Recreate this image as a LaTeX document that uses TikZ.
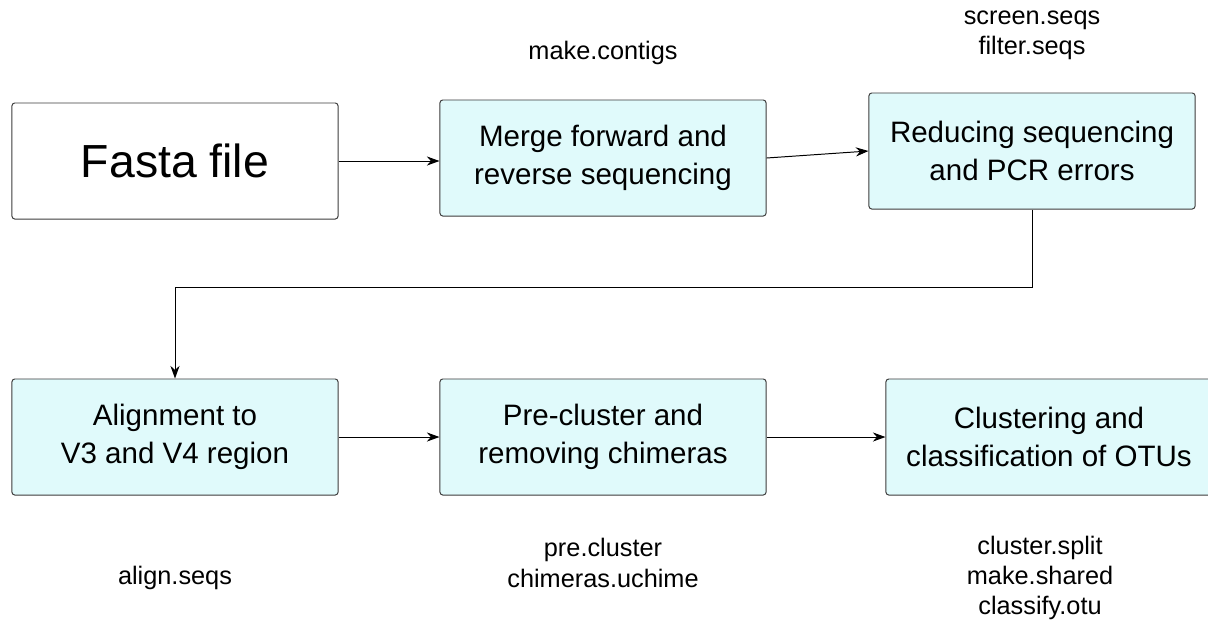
\documentclass[tikz,border=0pt]{standalone}
\usepackage{fontspec}
\setmainfont{Liberation Sans}
\usetikzlibrary{arrows.meta,positioning}
\definecolor{boxcyan}{RGB}{224,250,251}
\definecolor{boxline}{RGB}{60,60,60}

\begin{document}
\begin{tikzpicture}[x=0.025cm,y=-0.025cm,>={Stealth[length=9pt,width=6.5pt]},
  stepbox/.style={draw=boxline,fill=boxcyan,rounded corners=2pt,line width=0.7pt,
    minimum width=8.15cm,minimum height=2.9cm,align=center,
    font=\fontsize{21}{27.5}\selectfont},
  cmd/.style={align=center,font=\fontsize{18}{21.5}\selectfont}]
\useasboundingbox (0,0) rectangle (1208,621);
% ---- prima riga ----
\node[stepbox,fill=white,font=\fontsize{33}{40}\selectfont] (fasta) at (175,161) {Fasta file};
\node[stepbox] (merge) at (603,158) {Merge forward and\\reverse sequencing};
\node[stepbox] (reduce) at (1032,151) {Reducing sequencing\\and PCR errors};
% ---- seconda riga ----
\node[stepbox] (align) at (175,437) {Alignment to\\V3 and V4 region};
\node[stepbox] (precl) at (603,437) {Pre-cluster and\\removing chimeras};
\node[stepbox] (clust) at (1049,437) {Clustering and\\classification of OTUs};
% ---- comandi ----
\node[cmd] (cmdmerge) at (603,53) {make.contigs};
\node[cmd] (cmdreduce) at (1032,35) {screen.seqs\\filter.seqs};
\node[cmd] (cmdalign) at (175,578) {align.seqs};
\node[cmd] (cmdprecl) at (603,563) {pre.cluster\\chimeras.uchime};
\node[cmd] (cmdclust) at (1040,578) {cluster.split\\make.shared\\classify.otu};
% ---- frecce ----
\draw[->,line width=0.7pt] (fasta.east) -- (fasta.east -| merge.west);
\draw[->,line width=0.7pt] (merge.east) -- (reduce.west);
\draw[->,line width=0.7pt] (reduce.south) -- ++(0,78) -| (align.north);
\draw[->,line width=0.7pt] (align.east) -- (precl.west);
\draw[->,line width=0.7pt] (precl.east) -- (clust.west);
\end{tikzpicture}
\end{document}
